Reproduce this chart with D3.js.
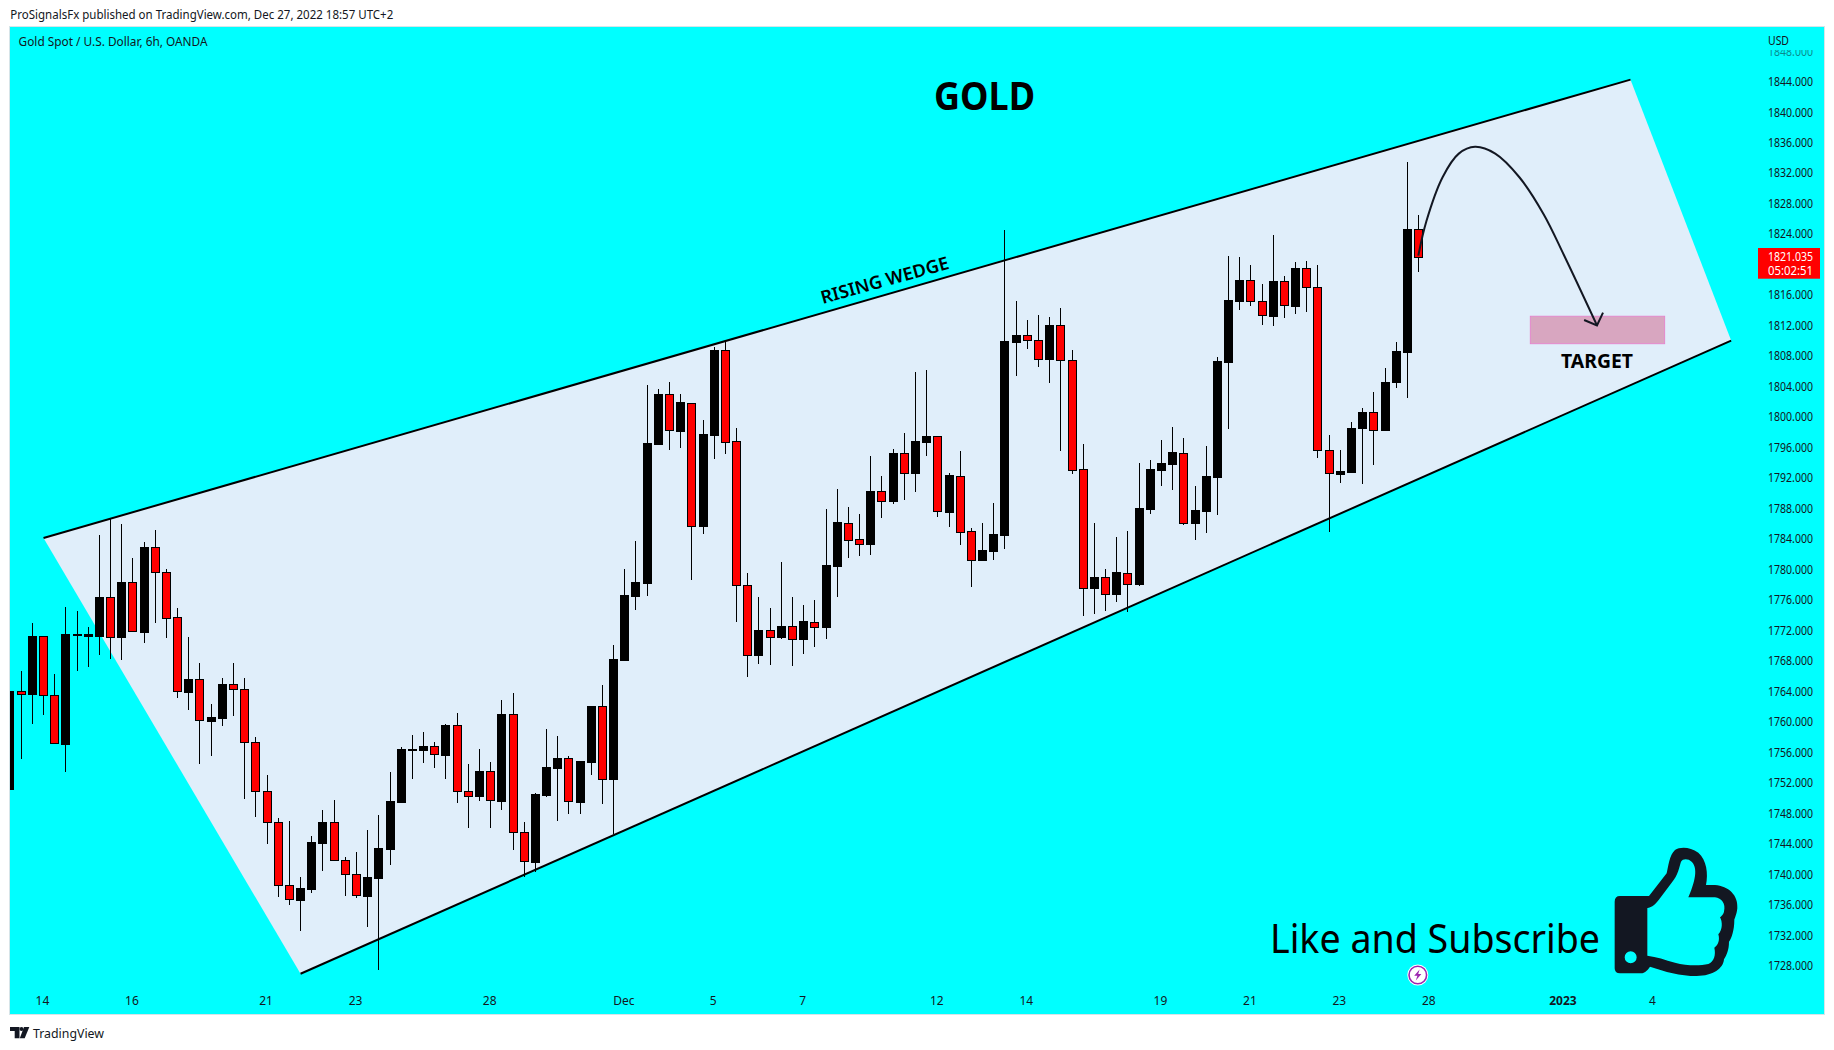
<!DOCTYPE html>
<html><head><meta charset="utf-8">
<script src="https://cdn.jsdelivr.net/npm/d3@7/dist/d3.min.js"></script>
<style>html,body{margin:0;padding:0;background:#fff}svg{display:block}text{font-family:"Noto Sans",sans-serif;fill:#131722}</style>
</head><body><svg id="c" width="1834" height="1050"></svg>
<script>
const opens=[1751.22,1763.99,1763.64,1771.23,1763.46,1757.12,1771.40,1771.27,1771.32,1776.33,1771.18,1778.33,1771.85,1782.90,1779.61,1773.71,1763.95,1765.59,1760.13,1760.53,1764.93,1764.26,1757.29,1750.86,1746.82,1738.53,1736.66,1738.08,1744.12,1746.91,1741.81,1739.99,1737.20,1739.55,1743.36,1749.53,1756.32,1756.36,1756.76,1755.70,1759.56,1750.86,1750.28,1753.48,1749.66,1760.98,1745.49,1741.63,1750.42,1753.97,1755.21,1749.53,1754.77,1762.04,1752.55,1768.14,1776.48,1778.25,1796.44,1802.97,1798.22,1801.90,1785.75,1797.69,1808.74,1796.80,1777.90,1768.80,1772.00,1771.11,1772.53,1770.84,1773.15,1772.49,1780.47,1786.15,1783.93,1783.31,1790.23,1788.95,1795.25,1792.63,1796.71,1797.47,1787.53,1792.32,1785.00,1781.23,1782.42,1784.51,1809.89,1810.73,1810.07,1807.67,1812.02,1807.45,1793.12,1777.59,1778.96,1776.79,1779.58,1778.08,1787.97,1793.03,1793.83,1795.34,1786.06,1787.66,1792.15,1807.28,1815.26,1817.93,1815.17,1813.31,1817.79,1814.60,1819.57,1817.04,1795.61,1792.55,1792.77,1798.58,1800.62,1798.31,1804.53,1808.56,1824.62];
const closes=[1764.08,1763.68,1771.23,1763.46,1757.16,1771.49,1771.54,1771.49,1776.33,1771.18,1778.37,1771.89,1782.94,1779.61,1773.67,1763.99,1765.59,1760.18,1760.58,1764.93,1764.26,1757.29,1750.86,1746.82,1738.53,1736.71,1738.13,1744.21,1746.91,1741.81,1739.99,1737.24,1739.59,1743.45,1749.62,1756.41,1756.45,1756.76,1755.74,1759.60,1750.86,1750.28,1753.52,1749.71,1761.02,1745.49,1741.68,1750.51,1754.06,1755.25,1749.57,1754.85,1762.09,1752.55,1768.25,1776.61,1778.34,1796.58,1803.01,1798.26,1801.95,1785.75,1797.78,1808.78,1796.76,1777.90,1768.80,1772.04,1771.15,1772.57,1770.89,1773.20,1772.49,1780.56,1786.20,1783.89,1783.36,1790.28,1788.99,1795.29,1792.67,1796.84,1797.47,1787.62,1792.36,1784.95,1781.27,1782.56,1784.64,1809.98,1810.78,1810.07,1807.67,1812.06,1807.45,1793.07,1777.59,1779.01,1776.79,1779.63,1778.12,1788.06,1793.12,1793.96,1795.38,1786.11,1787.79,1792.23,1807.37,1815.35,1817.93,1815.17,1813.36,1817.84,1814.64,1819.57,1817.04,1795.61,1792.59,1792.86,1798.62,1800.62,1798.31,1804.57,1808.65,1824.67,1821.03];
const highs=[1764.08,1766.66,1772.96,1771.23,1766.21,1775.09,1774.60,1772.42,1784.54,1786.76,1785.96,1781.52,1783.56,1785.16,1780.06,1774.91,1771.14,1767.72,1762.35,1765.77,1767.72,1765.77,1757.96,1752.99,1747.44,1746.96,1739.64,1745.00,1748.42,1749.75,1742.25,1742.92,1745.80,1747.76,1753.39,1756.67,1758.27,1758.63,1757.29,1759.69,1761.15,1754.45,1756.45,1754.72,1762.84,1763.73,1746.87,1750.64,1759.07,1758.14,1755.52,1754.85,1762.09,1764.84,1770.07,1780.03,1783.67,1804.21,1803.68,1804.61,1803.01,1801.90,1799.60,1809.18,1809.93,1798.53,1779.50,1776.34,1774.93,1780.96,1776.34,1775.33,1775.99,1787.93,1790.54,1788.19,1787.26,1794.89,1792.23,1795.74,1797.91,1805.90,1806.16,1797.47,1792.63,1795.51,1785.44,1786.06,1788.72,1824.53,1815.21,1812.73,1813.39,1813.13,1814.28,1808.78,1796.44,1786.06,1780.03,1784.24,1785.04,1793.96,1794.36,1796.93,1798.75,1797.24,1790.94,1796.18,1807.85,1821.12,1820.99,1819.97,1817.44,1823.87,1818.50,1820.28,1820.45,1819.97,1797.65,1795.65,1799.29,1801.20,1803.28,1806.43,1809.85,1833.45,1826.53];
const lows=[1751.22,1755.12,1759.74,1760.89,1757.16,1753.35,1766.66,1767.19,1768.83,1768.30,1768.17,1771.89,1770.38,1772.96,1771.05,1763.11,1761.55,1754.50,1755.56,1759.51,1760.80,1749.93,1747.53,1743.98,1737.06,1736.00,1732.58,1737.55,1740.48,1741.81,1737.15,1736.93,1733.11,1727.48,1741.23,1749.40,1752.50,1754.59,1753.92,1752.50,1749.40,1746.11,1749.66,1746.11,1748.47,1743.23,1739.68,1740.35,1750.11,1747.00,1747.89,1747.89,1753.04,1749.26,1745.23,1768.14,1774.66,1776.48,1796.31,1795.65,1795.91,1778.61,1784.64,1794.49,1795.16,1773.11,1765.87,1767.61,1767.43,1770.89,1767.29,1768.89,1769.82,1770.84,1776.34,1781.49,1781.76,1781.89,1786.73,1788.59,1789.08,1790.14,1794.89,1786.86,1785.57,1783.18,1777.68,1781.09,1781.23,1782.65,1805.36,1808.91,1806.56,1804.48,1795.51,1792.50,1773.86,1774.13,1774.53,1775.72,1774.44,1777.85,1787.26,1790.90,1790.41,1785.80,1783.84,1784.78,1787.09,1798.45,1813.98,1814.60,1812.11,1811.98,1813.05,1813.53,1813.84,1794.68,1784.96,1791.39,1792.68,1791.26,1793.74,1798.31,1803.86,1802.53,1819.08];

const priceTicks=[1728,1732,1736,1740,1744,1748,1752,1756,1760,1764,1768,1772,1776,1780,1784,1788,1792,1796,1800,1804,1808,1812,1816,1824,1828,1832,1836,1840,1844];
const timeTickIndex=[3,11,23,31,43,55,63,71,83,91,103,111,119,127,139,147];
const timeTickLabels=["14","16","21","23","28","Dec","5","7","12","14","19","21","23","28","2023","4"];

const wedgeIndex=[3.05,145,154,26.04];
const wedgePrice=[1784.12,1844.27,1810.03,1726.94];
const arrowIndex=[126.02,126.74,128.19,129.64,131.09,132.9,135.06,137.24,139.04,142];
const arrowPrice=[1821.17,1825.68,1831.46,1834.56,1835.45,1834.56,1831.46,1826.58,1821.26,1812.02];
const arrowHeadIndex=[140.85,142,142.54];
const arrowHeadPrice=[1812.73,1812.02,1813.7];
const targetIndex=[136.04,148.05];
const targetPrice=[1813.22,1809.62];
const lastPrice=1821.035, countdown="05:02:51";

const svg=d3.select("#c");
const x=d3.scaleLinear().domain([0,126]).range([9.42,1418.1]);
const y=d3.scaleLinear().domain([1728,1844]).range([965.66,81.7]);
const pane={l:10,t:27,r:1824,b:1014};

function label(g,s,px,py,o={}){
  const t=g.append("text").text(s).attr("x",px).attr("y",py)
    .attr("font-size",o.size||12).attr("dominant-baseline","central");
  if(o.w)t.attr("textLength",o.w).attr("lengthAdjust","spacingAndGlyphs");
  if(o.weight)t.attr("font-weight",o.weight);
  if(o.anchor)t.attr("text-anchor",o.anchor);
  if(o.fill)t.style("fill",o.fill);
  return t;
}

svg.append("rect").attr("x",pane.l-.5).attr("y",pane.t-.5).attr("width",pane.r-pane.l+1).attr("height",pane.b-pane.t+1)
  .attr("fill","#00ffff").attr("stroke","#d6e4e8");
const defs=svg.append("defs");
defs.append("clipPath").attr("id","pane").append("rect").attr("x",pane.l).attr("y",pane.t).attr("width",pane.r-pane.l).attr("height",pane.b-pane.t);
defs.append("clipPath").attr("id","topclip").append("rect").attr("x",1700).attr("y",50).attr("width",120).attr("height",20);

label(svg,"ProSignalsFx published on TradingView.com, Dec 27, 2022 18:57 UTC+2",10.3,14.5,{w:383,size:12});
label(svg,"Gold Spot / U.S. Dollar, 6h, OANDA",18.6,41.6,{w:189,size:12});
label(svg,"USD",1768,40.2,{w:21,size:12});

const plot=svg.append("g").attr("clip-path","url(#pane)");

plot.append("polygon")
  .attr("points",wedgeIndex.map((d,i)=>[x(d),y(wedgePrice[i])].join(",")).join(" "))
  .attr("fill","#e0eefa");

const candles=plot.append("g").selectAll("g").data(opens.map((o,i)=>({i,o,c:closes[i],h:highs[i],l:lows[i]}))).join("g");
candles.append("line").attr("x1",d=>Math.round(x(d.i))+.5).attr("x2",d=>Math.round(x(d.i))+.5)
  .attr("y1",d=>Math.round(y(d.h))).attr("y2",d=>Math.round(y(d.l))).attr("stroke","#000");
candles.append("rect").attr("x",d=>Math.round(x(d.i))-3.5).attr("width",8)
  .attr("y",d=>Math.round(y(Math.max(d.o,d.c)))+.5)
  .attr("height",d=>Math.max(1,Math.round(y(Math.min(d.o,d.c)))-Math.round(y(Math.max(d.o,d.c)))))
  .attr("fill",d=>d.c>=d.o?"#000":"#ff0000").attr("stroke","#000");

plot.append("line").attr("x1",x(wedgeIndex[0])).attr("y1",y(wedgePrice[0])).attr("x2",x(wedgeIndex[1])).attr("y2",y(wedgePrice[1])).attr("stroke","#000").attr("stroke-width",2);
plot.append("line").attr("x1",x(wedgeIndex[3])).attr("y1",y(wedgePrice[3])).attr("x2",x(wedgeIndex[2])).attr("y2",y(wedgePrice[2])).attr("stroke","#000").attr("stroke-width",2);

plot.append("rect").attr("x",x(targetIndex[0])).attr("y",y(targetPrice[0])).attr("width",x(targetIndex[1])-x(targetIndex[0])).attr("height",y(targetPrice[1])-y(targetPrice[0]))
  .attr("fill","#d8a6c0").attr("stroke","#e488cc").attr("stroke-width",1);

const arrowLine=d3.line().x(d=>x(d[0])).y(d=>y(d[1]));
plot.append("path").attr("d",arrowLine.curve(d3.curveCatmullRom)(arrowIndex.map((d,i)=>[d,arrowPrice[i]])))
  .attr("fill","none").attr("stroke","#131722").attr("stroke-width",2);
plot.append("path").attr("d",d3.line().x(d=>x(d[0])).y(d=>y(d[1]))(arrowHeadIndex.map((d,i)=>[d,arrowHeadPrice[i]])))
  .attr("fill","none").attr("stroke","#131722").attr("stroke-width",2);

label(svg,"GOLD",934,94,{size:40,weight:700,w:101}).style("fill","#000");
label(svg,"TARGET",1561,360,{size:20,weight:700,w:72}).style("fill","#000");
label(svg,"RISING WEDGE",0,0,{size:18,weight:600,w:132,anchor:"middle"}).style("fill","#000")
  .attr("transform","translate(884.5,279.5) rotate(-15.5)");
label(svg,"Like and Subscribe",1270,937.5,{size:40,w:330}).style("fill","#000");

// thumbs-up icon
svg.append("path").attr("transform","translate(1600,840) scale(0.3333)").attr("fill","#131722").attr("fill-rule","evenodd")
 .attr("d","M60 168L147 168L200 100C205 80 208 45 225 30C240 20 270 20 295 38C320 60 325 100 318 135L345 135C385 138 415 165 412 205C410 225 402 240 403 240C403 270 395 295 387 305C387 330 380 345 372 358C370 385 340 408 290 408C240 408 195 395 150 380C140 395 130 400 125 400L60 400Q44 400 44 385L44 185Q44 168 60 168Z M142 204C155 204 170 190 180 175L215 128C235 105 238 80 243 65C248 55 265 55 275 65C290 80 292 110 265 172L345 172C365 175 378 190 372 215C370 225 360 232 360 232C368 245 368 270 355 283C360 300 355 315 343 323C348 345 342 365 325 372C300 378 260 378 225 368C195 360 170 350 142 347Z M110 352A18 18 0 1 0 74 352A18 18 0 1 0 110 352Z");

// bolt marker
const bolt=svg.append("g").attr("transform",`translate(${x(126)-0.3},975)`);
bolt.append("circle").attr("r",10.5).attr("fill","#fff");
bolt.append("circle").attr("r",8.8).attr("fill","#fff").attr("stroke","#9c27b0").attr("stroke-width",1.6);
bolt.append("path").attr("d","M1.8 -5.5L-3.6 0.8L-0.4 0.8L-2 5.5L3.6 -1L0.4 -1Z").attr("fill","#9c27b0");

// price axis
const yAxis=d3.axisRight(y).tickValues(priceTicks).tickSize(0).tickPadding(0).tickFormat(d3.format(".3f"));
const ya=svg.append("g").attr("transform","translate(1768,0)").call(yAxis);
ya.select(".domain").remove();
ya.selectAll("text").attr("font-family","'Noto Sans',sans-serif").attr("font-size",12).attr("textLength",45).attr("lengthAdjust","spacingAndGlyphs");
const faint=svg.append("g").attr("clip-path","url(#topclip)");
label(faint,d3.format(".3f")(1848),1768,51.2,{w:45}).attr("opacity",.5);

// time axis
const xAxis=d3.axisBottom(x).tickValues(timeTickIndex).tickSize(0).tickPadding(0).tickFormat((d,i)=>timeTickLabels[i]);
const xa=svg.append("g").attr("transform","translate(-1,996.6)").call(xAxis);
xa.select(".domain").remove();
xa.selectAll("text").attr("font-family","'Noto Sans',sans-serif").attr("font-size",12)
  .attr("font-weight",(d,i)=>timeTickLabels[i]==="2023"?700:400);

// last price tag
svg.append("rect").attr("x",1758).attr("y",y(lastPrice)-8.7).attr("width",62).attr("height",30.7).attr("fill","#ff0000");
label(svg,d3.format(".3f")(lastPrice),1768,y(lastPrice),{w:45,fill:"#fff"});
label(svg,countdown,1768,y(lastPrice)+13.8,{w:45,fill:"#fff"});

// footer logo and wordmark
const logo=svg.append("g").attr("fill","#131722");
logo.append("path").attr("d","M10 1027L19.5 1027L19.5 1038.3L14.7 1038.3L14.7 1031L10 1031Z");
logo.append("circle").attr("cx",21.5).attr("cy",1029).attr("r",2);
logo.append("path").attr("d","M24 1027L29.3 1027L24.7 1038.3L19.8 1038.3Z");
label(svg,"TradingView",33,1032.7,{size:13,w:71});
</script></body></html>
